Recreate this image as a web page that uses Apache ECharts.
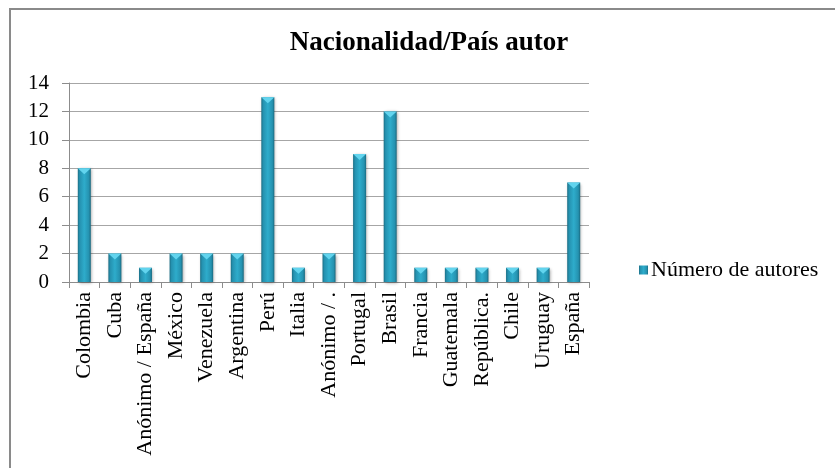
<!DOCTYPE html>
<html>
<head>
<meta charset="utf-8">
<script src="https://cdn.jsdelivr.net/npm/echarts@6/dist/echarts.min.js"></script>
<style>html,body{margin:0;padding:0;background:#fff}#c{width:835px;height:468px}</style>
</head>
<body>
<div id="c"></div>
<script>
const categories = ["Colombia","Cuba","Anónimo / España","México","Venezuela","Argentina","Perú","Italia","Anónimo / .","Portugal","Brasil","Francia","Guatemala","República.","Chile","Uruguay","España"];
const values = [8,2,1,2,2,2,13,1,2,9,12,1,1,1,1,1,7];
const seriesName = "Número de autores";
const yTicks = {min:0, max:14, interval:2};

const chart = echarts.init(document.getElementById('c'), null, {renderer:'canvas'});
const font = '"Liberation Serif", "Times New Roman", serif';
chart.setOption({
  animation:false,
  backgroundColor:'#fff',
  graphic:[{type:'rect', shape:{x:10,y:9,width:900,height:600}, style:{fill:'none', stroke:'#8a8a8a', lineWidth:2}, silent:true}],
  title:{text:'Nacionalidad/País autor', left:424, top:25, textAlign:'center',
    textStyle:{fontFamily:font, fontWeight:'bold', fontSize:27, color:'#000'}},
  legend:{data:[seriesName], left:634, top:254, icon:'rect', itemWidth:9, itemHeight:9, itemGap:4,
    textStyle:{fontFamily:font, fontSize:22, color:'#000', padding:[0,0,0,-2]}},
  grid:{left:69, right:246, top:83, bottom:186, containLabel:false},
  xAxis:{type:'category', data:categories, boundaryGap:true,
    axisLine:{lineStyle:{color:'#8c8c8c', width:1}},
    axisTick:{show:true, length:6, lineStyle:{color:'#8c8c8c'}},
    axisLabel:{rotate:90, interval:0, fontFamily:font, fontSize:22, color:'#000', margin:10}},
  yAxis:{type:'value', min:yTicks.min, max:yTicks.max, interval:yTicks.interval,
    axisLine:{show:true, lineStyle:{color:'#8c8c8c'}},
    axisTick:{show:true, length:7, lineStyle:{color:'#8c8c8c'}},
    splitLine:{lineStyle:{color:'#a6a6a6', width:1}},
    axisLabel:{fontFamily:font, fontSize:21, color:'#000', margin:20}},
  series:[
    {name:seriesName, type:'bar', data:values, barWidth:13,
      itemStyle:{color:new echarts.graphic.LinearGradient(0,0,1,0,[
        {offset:0,color:'#1b6f86'},{offset:0.15,color:'#2592b0'},{offset:0.5,color:'#2eaccb'},{offset:0.85,color:'#2592b0'},{offset:1,color:'#1a6a80'}]),
        shadowColor:'rgba(0,0,0,0.35)', shadowBlur:3, shadowOffsetX:1, shadowOffsetY:1}},
    {name:seriesName+'_top', type:'pictorialBar', data:values, barGap:'-100%',
      symbol:'path://M0,0 L10,0 L5,5 Z', symbolSize:[13,6], symbolPosition:'end', symbolOffset:[0,0],
      itemStyle:{color:'#62d4ee'}, silent:true, z:3}
  ]
});
</script>
</body>
</html>
